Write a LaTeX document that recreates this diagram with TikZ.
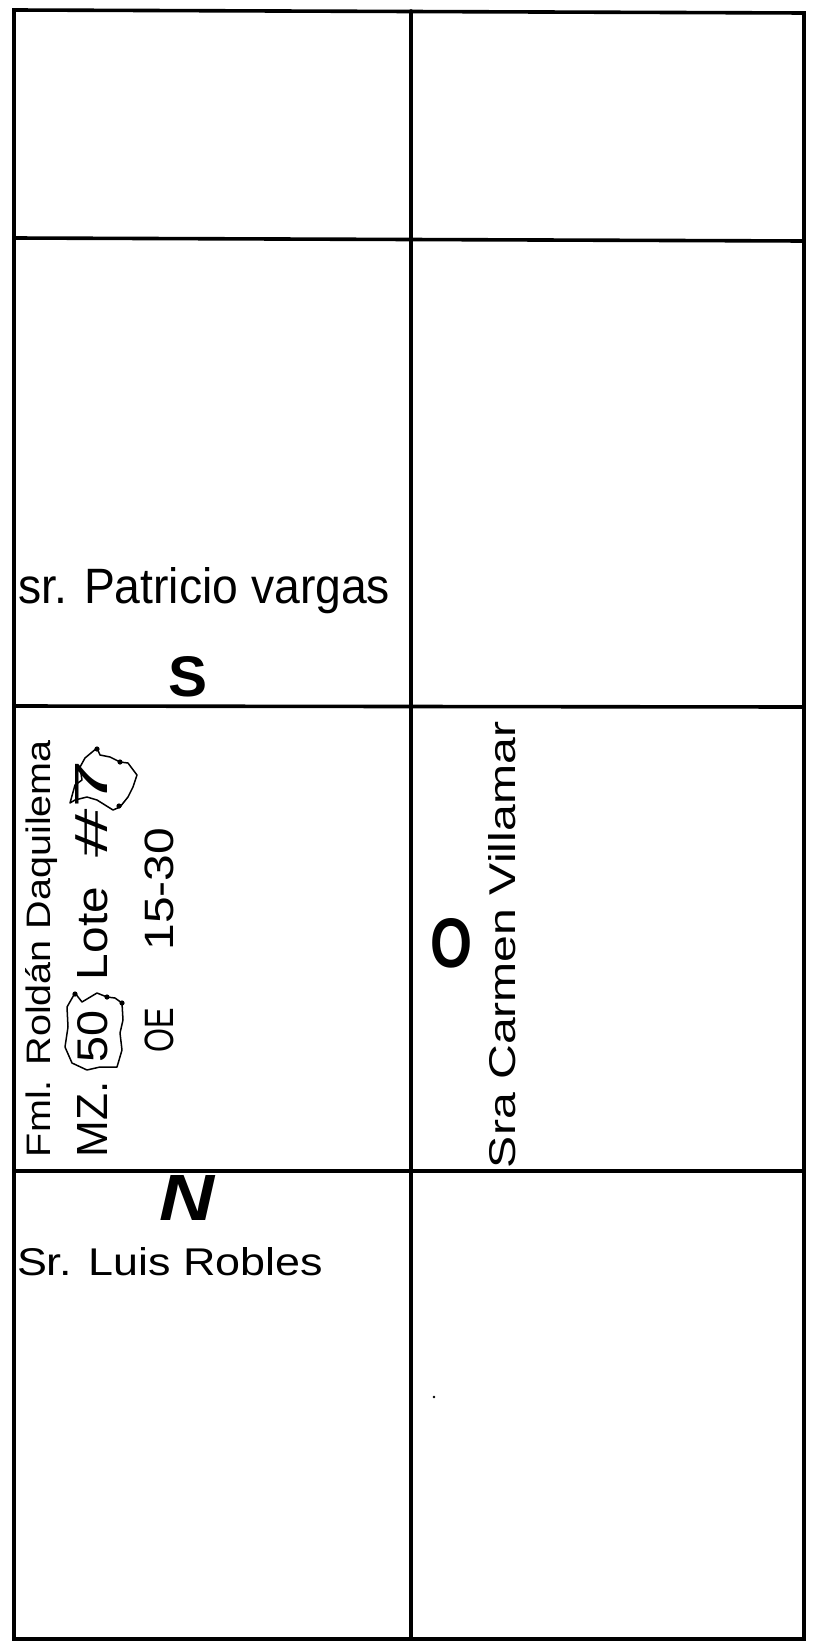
\documentclass[tikz,border=0pt]{standalone}
\usepackage{fontspec}
\setmainfont{Liberation Sans}
\begin{document}
\begin{tikzpicture}[x=1pt,y=-1pt,
  gridline/.style={line width=3.6pt, line cap=round},
  lbl/.style={inner sep=0pt, outer sep=0pt},
  vlbl/.style={inner sep=0pt, outer sep=0pt, anchor=base west, rotate=90},
  scrib/.style={line width=1.5pt, line join=round},
  blob/.style={fill=black}]
\useasboundingbox (0,0) rectangle (812,1648);
\fill[white] (0,0) rectangle (812,1648);
% grid
\draw[gridline] (14,10) -- (804,13) -- (804,1639) -- (14,1639) -- cycle;
\draw[gridline] (411,11) -- (411,1639);
\draw[gridline] (14,238) -- (804,241);
\draw[gridline] (14,706) -- (804,707);
\draw[gridline] (14,1171) -- (804,1171);
% labels
\node[lbl, anchor=base west] (patricio) at (18,603) {\resizebox{372pt}{36pt}{sr. Patricio vargas}};
\node[lbl] (south) at (188,677) {\resizebox{39pt}{40pt}{\bfseries S}};
\node[vlbl] (roldan) at (50,1157) {\resizebox{417pt}{25pt}{Fml. Roldán Daquilema}};
\node[vlbl] (mz) at (107,1157) {\resizebox{76pt}{30pt}{MZ.}};
\node[vlbl] (cincuenta) at (107,1062) {\resizebox{52pt}{30pt}{50}};
\node[vlbl] (lote) at (107,980) {\resizebox{93pt}{30pt}{Lote}};
\node[vlbl] (siete) at (107,857) {\resizebox{97pt}{32pt}{\#7}};
\node[vlbl, font=\fontsize{41}{41}\selectfont] (oe) at (173,1052) {\scalebox{0.75}[1]{OE}\hspace{57pt}\scalebox{1.17}[1]{15-30}};
\node[lbl] (west) at (451,943) {\resizebox{42pt}{49pt}{\bfseries O}};
\node[vlbl] (carmen) at (515,1168) {\resizebox{446pt}{27pt}{Sra Carmen Villamar}};
\node[lbl] (north) at (187,1198) {\resizebox{55pt}{45pt}{\bfseries\itshape N}};
\node[lbl, anchor=base west] (luis) at (17,1275) {\resizebox{306pt}{28pt}{Sr. Luis Robles}};
% scribbled outlines
\draw[scrib] (75,993) -- (82,1002) -- (97,993) -- (107,997) -- (115,998) -- (122,1003) -- (123,1020) -- (120,1033) -- (122,1050) -- (117,1067) -- (100,1067) -- (87,1070) -- (72,1063) -- (65,1047) -- (68,1027) -- (67,1007) -- cycle;
\draw[scrib] (97,748) -- (100,755) -- (110,757) -- (120,762) -- (128,763) -- (137,775) -- (133,787) -- (128,797) -- (120,807) -- (113,810) -- (97,800) -- (87,797) -- (75,800) -- (70,803) -- (75,785) -- (82,780) -- (80,767) -- (85,758) -- cycle;
\foreach \p in {(75,994),(107,997),(122,1003),(97,749),(120,762),(119,806)} \fill[blob] \p circle (2.6pt);
\fill (434,1397) circle (1.4pt);
\end{tikzpicture}
\end{document}
